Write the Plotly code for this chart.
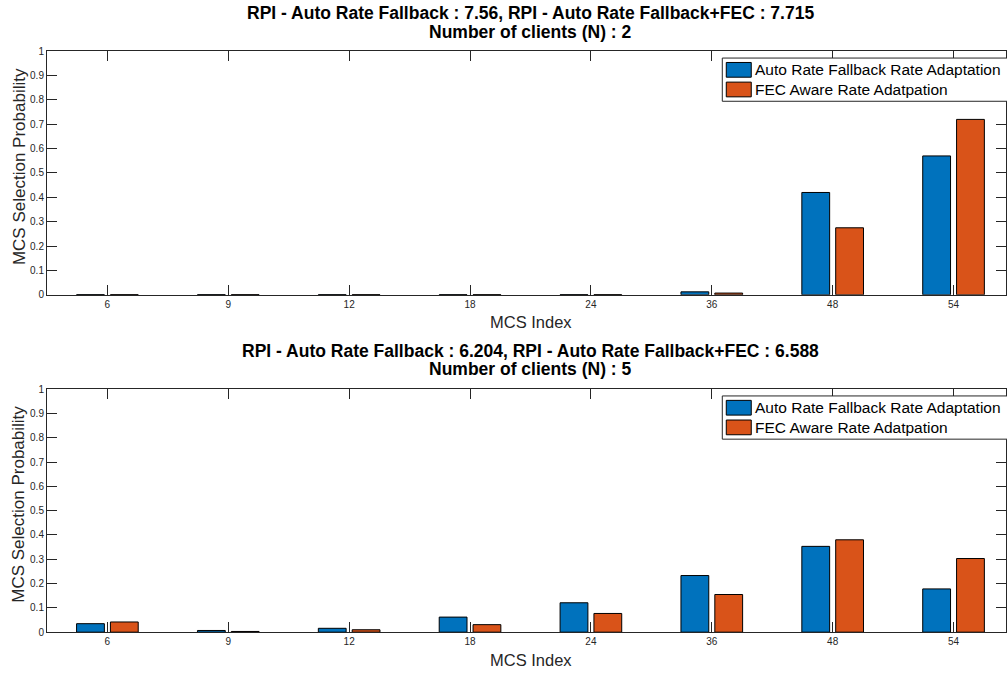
import plotly.graph_objects as go

# MCS indices (categories) and selection probabilities
mcs_labels = ["6", "9", "12", "18", "24", "36", "48", "54"]

arf_n2 = [0.001, 0.001, 0.001, 0.001, 0.001, 0.012, 0.42, 0.57]
fec_n2 = [0.001, 0.001, 0.001, 0.001, 0.001, 0.007, 0.275, 0.72]

arf_n5 = [0.035, 0.007, 0.016, 0.062, 0.121, 0.233, 0.353, 0.178]
fec_n5 = [0.042, 0.003, 0.010, 0.031, 0.077, 0.155, 0.380, 0.303]

title_lines = [
    ("RPI - Auto Rate Fallback : 7.56, RPI - Auto Rate Fallback+FEC : 7.715",
     "Number of clients (N) : 2"),
    ("RPI - Auto Rate Fallback : 6.204, RPI - Auto Rate Fallback+FEC : 6.588",
     "Number of clients (N) : 5"),
]
series_names = ["Auto Rate Fallback Rate Adaptation", "FEC Aware Rate Adatpation"]
series_colors = ["#0072BD", "#D95319"]

W, H = 1007, 676
FONT = "Liberation Sans, Arial, sans-serif"
AX = "#262626"

# pixel helpers for paper coordinates
def px(x):
    return x / W

def py(y):
    return 1 - y / H

positions = list(range(1, len(mcs_labels) + 1))

# axes boxes in pixels (left, right, top, bottom)
panels = [(47, 1007, 46, 294), (47, 1007, 390, 637.5)]
cat_px = 121.0
x_range = [0.5, 0.5 + (panels[0][1] - panels[0][0]) / cat_px]

fig = go.Figure()

data = [(arf_n2, fec_n2), (arf_n5, fec_n5)]
bar_w = 0.23
offsets = [-0.255, 0.025]

for i, (a, b) in enumerate(data):
    xa = "x" if i == 0 else "x2"
    ya = "y" if i == 0 else "y2"
    for vals, name, col, off in zip((a, b), series_names, series_colors, offsets):
        fig.add_trace(go.Bar(
            x=positions, y=vals, name=name, width=bar_w, offset=off,
            marker=dict(color=col, line=dict(color="#000000", width=1)),
            xaxis=xa, yaxis=ya, showlegend=False,
        ))

axis_common = dict(
    showline=True, linecolor=AX, linewidth=1, mirror="ticks",
    ticks="inside", ticklen=10, tickcolor=AX, tickwidth=1,
    showgrid=False, zeroline=False,
    tickfont=dict(family=FONT, size=10, color=AX),
)

layout = dict(
    width=W, height=H, margin=dict(l=0, r=0, t=0, b=0),
    paper_bgcolor="white", plot_bgcolor="white",
    barmode="overlay", showlegend=False,
    font=dict(family=FONT, color=AX),
)

annotations = []
shapes = []
for i, (l, r, t, b) in enumerate(panels):
    sx = "" if i == 0 else "2"
    layout["xaxis" + sx] = dict(
        axis_common, domain=[px(l), px(r)], range=x_range,
        tickvals=positions, ticktext=mcs_labels,
        anchor="y" + sx,
    )
    layout["yaxis" + sx] = dict(
        axis_common, domain=[py(b), py(t)], range=[0, 1],
        tickvals=[k / 10 for k in range(11)],
        ticktext=["0"] + [f"0.{k}" for k in range(1, 10)] + ["1"],
        anchor="x" + sx,
    )
    # two-line bold title
    for j, line in enumerate(title_lines[i]):
        annotations.append(dict(
            text="<b>" + line + "</b>",
            x=px(531), y=py(t - 38.5 + 18.5 * j), xref="paper", yref="paper",
            xanchor="center", yanchor="middle", showarrow=False,
            font=dict(family=FONT, size=17.5, color="#000000"),
        ))
    annotations.append(dict(
        text="MCS Index", x=px(532), y=py(b + 28),
        xref="paper", yref="paper", xanchor="center", yanchor="middle",
        showarrow=False, font=dict(family=FONT, size=16.5, color=AX),
    ))
    annotations.append(dict(
        text="MCS Selection Probability", x=px(19), y=py((t + b) / 2 - 7),
        xref="paper", yref="paper", xanchor="center", yanchor="middle",
        textangle=-90, showarrow=False, font=dict(family=FONT, size=17, color=AX),
    ))
    # legend box
    lt = t + 7
    shapes.append(dict(
        type="rect", xref="paper", yref="paper",
        x0=px(723), x1=px(1015), y0=py(lt), y1=py(lt + 44),
        line=dict(color=AX, width=1), fillcolor="white", layer="above",
    ))
    for k, (name, col) in enumerate(zip(series_names, series_colors)):
        y0 = lt + 4.5 + k * 20
        shapes.append(dict(
            type="rect", xref="paper", yref="paper",
            x0=px(727), x1=px(752), y0=py(y0), y1=py(y0 + 15),
            line=dict(color="#000000", width=1), fillcolor=col, layer="above",
        ))
        annotations.append(dict(
            text=name, x=px(754), y=py(y0 + 7.5), xref="paper", yref="paper",
            xanchor="left", yanchor="middle", showarrow=False,
            font=dict(family=FONT, size=15.5, color="#000000"),
        ))

layout["annotations"] = annotations
layout["shapes"] = shapes
fig.update_layout(**layout)

fig.write_html("out.html")
